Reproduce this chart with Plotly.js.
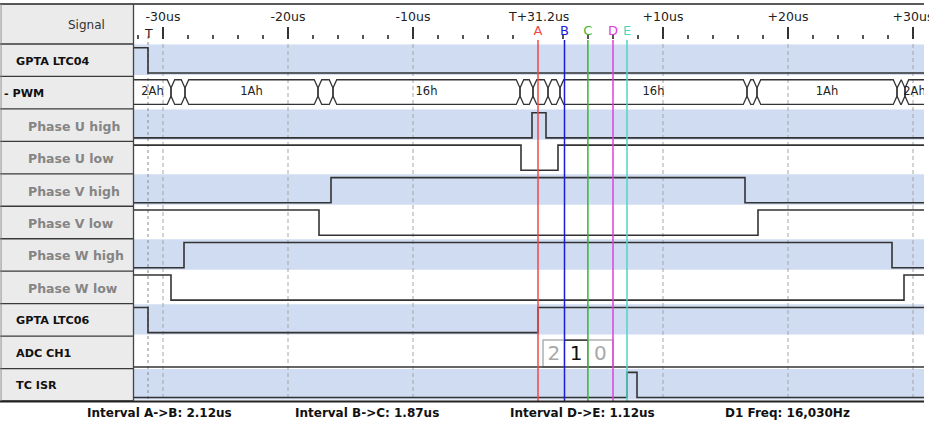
<!DOCTYPE html>
<html><head><meta charset="utf-8">
<script src="https://cdn.plot.ly/plotly-3.0.1.min.js"></script>
<style>html,body{margin:0;padding:0;background:#fff}#chart{width:929px;height:425px}</style>
</head><body><div id="chart"></div>
<script>
// ================= DATA =================
const signalNames = ['GPTA LTC04','- PWM','Phase U high','Phase U low','Phase V high','Phase V low','Phase W high','Phase W low','GPTA LTC06','ADC CH1','TC ISR'];
const signalKinds = ['top','group','child','child','child','child','child','child','top','top','top'];

const majorTickVals = [-30,-20,-10,10,20,30];
const majorTickText = ['-30us','-20us','-10us','+10us','+20us','+30us'];
const referenceTime = 0;
const referenceLabel = 'T+31.2us';
const triggerTime = -31.2;
const triggerLabel = 'T';

const cursorNames  = ['A','B','C','D','E'];
const cursorTimes  = [0, 2.12, 3.99, 6.0, 7.12];
const cursorColors = ['#f04848','#1c1cd0','#38b438','#e040dc','#4fd6c6'];

// digital signals: initial level + transition times (us)
const ltc04Init = 1,      ltc04Edges = [-31.2];
const phaseUHighInit = 0, phaseUHighEdges = [-0.48, 0.64];
const phaseULowInit = 1,  phaseULowEdges = [-1.36, 1.6];
const phaseVHighInit = 0, phaseVHighEdges = [-16.56, 16.56];
const phaseVLowInit = 1,  phaseVLowEdges = [-17.52, 17.6];
const phaseWHighInit = 0, phaseWHighEdges = [-28.32, 28.32];
const phaseWLowInit = 1,  phaseWLowEdges = [-29.36, 29.28];
const ltc06Init = 1,      ltc06Edges = [-31.2, 0];
const tcIsrInit = 0,      tcIsrEdges = [7.12, 7.92];

// PWM bus
const pwmEdges  = [-29.36, -28.24, -17.6, -16.4, -1.44, -0.4, 0.8, 1.76, 16.72, 17.52, 28.72, 29.36];
const pwmValues = ['2Ah','', '1Ah','', '16h','','','', '16h','', '1Ah','', '2Ah'];

// ADC CH1 bus
const adcValues = ['2','1','0'];
const adcStarts = [0.4, 2.12, 3.99];
const adcEnds   = [2.12, 3.99, 6.0];
const adcCurrent = 1;

const statusTexts = ['Interval A->B: 2.12us','Interval B->C: 1.87us','Interval D->E: 1.12us','D1 Freq: 16,030Hz'];

// ================= LAYOUT GEOMETRY =================
const W = 929, H = 425;
const plotLeftPx = 134, plotRightPx = 924, zeroPx = 538, pxPerUs = 12.5;
const xMin = (plotLeftPx - zeroPx) / pxPerUs, xMax = (plotRightPx - zeroPx) / pxPerUs;
const headerTop = 4, rowsTop = 44, rowsBottom = 401;
const rowH = (rowsBottom - rowsTop) / signalNames.length;
const rowTop = i => rowsTop + i * rowH;
const rowBot = i => rowsTop + (i + 1) * rowH;
const hiY = i => rowTop(i) + 3.8;
const loY = i => rowBot(i) - 3.5;
const FONT = 'DejaVu Sans';
const LINE = '#333';

const traces = [];
const shapes = [];
const annotations = [];

// row bands
signalNames.forEach((n, i) => {
  if (i % 2 === 0) shapes.push({type:'rect', xref:'x', yref:'y', x0:xMin-1, x1:xMax+1, y0:rowTop(i)+0.5, y1:rowBot(i)-1.5,
    fillcolor:'#cfdcf1', line:{width:0}, layer:'below'});
});
// dashed gridlines
majorTickVals.forEach(v => shapes.push({type:'line', xref:'x', yref:'y', x0:v, x1:v, y0:rowsTop, y1:rowsBottom,
  line:{color:'#a6a6a6', width:1, dash:'4px,3px'}, layer:'below'}));
// trigger dotted line
shapes.push({type:'line', xref:'x', yref:'y', x0:triggerTime, x1:triggerTime, y0:36, y1:rowsBottom,
  line:{color:'#8a8a8a', width:1, dash:'dot'}, layer:'below'});

// digital traces
function digital(row, init, edges) {
  const xs = [xMin - 1], ys = [];
  let lvl = init;
  ys.push(lvl ? hiY(row) : loY(row));
  edges.forEach(e => { lvl = 1 - lvl; xs.push(e); ys.push(lvl ? hiY(row) : loY(row)); });
  xs.push(xMax + 1); ys.push(lvl ? hiY(row) : loY(row));
  traces.push({type:'scatter', mode:'lines', x:xs, y:ys, line:{shape:'hv', color:LINE, width:1.6}, hoverinfo:'skip'});
}
digital(0, ltc04Init, ltc04Edges);
digital(2, phaseUHighInit, phaseUHighEdges);
digital(3, phaseULowInit, phaseULowEdges);
digital(4, phaseVHighInit, phaseVHighEdges);
digital(5, phaseVLowInit, phaseVLowEdges);
digital(6, phaseWHighInit, phaseWHighEdges);
digital(7, phaseWLowInit, phaseWLowEdges);
digital(8, ltc06Init, ltc06Edges);
digital(10, tcIsrInit, tcIsrEdges);

// ADC baseline
const adcRow = 9;
const adcBase = rowBot(adcRow) - 1.5;
traces.push({type:'scatter', mode:'lines', x:[xMin-1, xMax+1], y:[adcBase, adcBase], line:{color:LINE, width:1.5}, hoverinfo:'skip'});

// PWM bus hexagons
(function(){
  const row = 1, top = hiY(row) - 0.5, bot = loY(row) - 1, mid = (top + bot) / 2;
  const d = 0.3, v = 4;
  const xs = [], ys = [], lx = [], ly = [], lt = [];
  const bounds = [xMin - 2].concat(pwmEdges, [xMax + 2]);
  for (let k = 0; k < pwmValues.length; k++) {
    const s = bounds[k], e = bounds[k+1];
    xs.push(s, s+d, e-d, e, e, e-d, s+d, s, s, null);
    ys.push(mid-v, top, top, mid-v, mid+v, bot, bot, mid+v, mid-v, null);
    if (pwmValues[k]) {
      const a = Math.max(s, xMin), b = Math.min(e, xMax);
      lx.push((a + b) / 2); ly.push(mid + 0.5); lt.push(pwmValues[k]);
    }
  }
  traces.push({type:'scatter', mode:'lines', x:xs, y:ys, line:{color:LINE, width:1.3}, hoverinfo:'skip', connectgaps:false});
  traces.push({type:'scatter', mode:'text', x:lx, y:ly, text:lt, textposition:'middle center',
    textfont:{family:FONT, size:11.5, color:'#222'}, hoverinfo:'skip'});
})();

// ADC boxes
(function(){
  const y0 = rowTop(adcRow) + 4, y1 = adcBase;
  adcValues.forEach((v, k) => {
    shapes.push({type:'rect', xref:'x', yref:'y', x0:adcStarts[k], x1:adcEnds[k], y0:y0, y1:y1,
      fillcolor:'#ffffff', line:{color: k === adcCurrent ? '#ffffff' : '#b0b0b0', width:1.5}, layer:'below'});
  });
  shapes.push({type:'line', xref:'x', yref:'y', x0:adcStarts[adcCurrent], x1:adcEnds[adcCurrent], y0:y0, y1:y0,
    line:{color:'#222', width:1.5}, layer:'below'});
  traces.push({type:'scatter', mode:'text', x:adcStarts.map((s,k)=>(s+adcEnds[k])/2), y:adcValues.map(()=> (y0+y1)/2 + 1),
    text:adcValues, textfont:{family:FONT, size:20, color:adcValues.map((v,k)=> k===adcCurrent ? '#111' : '#a8a8a8')}, hoverinfo:'skip'});
})();

// cursors
cursorTimes.forEach((t, k) => traces.push({type:'scatter', mode:'lines', x:[t,t], y:[40, rowsBottom],
  line:{color:cursorColors[k], width:1.5}, hoverinfo:'skip'}));
traces.push({type:'scatter', mode:'text', xaxis:'x2', yaxis:'y', x:cursorTimes, y:cursorTimes.map(()=>32),
  text:cursorNames, textfont:{family:FONT, size:13, color:cursorColors}, hoverinfo:'skip', cliponaxis:false});

// header annotations
annotations.push({xref:'x', yref:'y', x:referenceTime, y:16, text:referenceLabel, showarrow:false,
  font:{family:FONT, size:12.5, color:'#222'}});
annotations.push({xref:'x', yref:'y', x:triggerTime, y:33, text:triggerLabel, showarrow:false,
  font:{family:FONT, size:12.5, color:'#222'}});

// left panel
const panelR = 133;
shapes.push({type:'rect', xref:'paper', yref:'y', x0:1/W, x1:panelR/W, y0:headerTop, y1:rowsBottom,
  fillcolor:'#ebebeb', line:{width:0}, layer:'above'});
for (let i = 0; i <= signalNames.length; i++) {
  shapes.push({type:'line', xref:'paper', yref:'y', x0:0, x1:panelR/W, y0:rowTop(i), y1:rowTop(i),
    line:{color:'#3a3a3a', width:1.3}, layer:'above'});
}
shapes.push({type:'line', xref:'paper', yref:'y', x0:0, x1:plotRightPx/W, y0:headerTop, y1:headerTop, line:{color:'#222', width:1.5}, layer:'above'});
shapes.push({type:'line', xref:'paper', yref:'y', x0:0, x1:plotRightPx/W, y0:rowsBottom+0.5, y1:rowsBottom+0.5, line:{color:'#222', width:1.8}, layer:'above'});
shapes.push({type:'line', xref:'paper', yref:'y', x0:1/W, x1:1/W, y0:headerTop, y1:rowsBottom, line:{color:'#888', width:1}, layer:'above'});
shapes.push({type:'line', xref:'paper', yref:'y', x0:(panelR+0.5)/W, x1:(panelR+0.5)/W, y0:headerTop, y1:rowsBottom, line:{color:'#444', width:1.3}, layer:'above'});

annotations.push({xref:'paper', yref:'y', x:66/W, y:(headerTop+rowsTop)/2+1, text:'Signal', showarrow:false,
  font:{family:FONT, size:12, color:'#333'}});
signalNames.forEach((n, i) => {
  const kind = signalKinds[i];
  const x = kind === 'group' ? 2 : kind === 'child' ? 26 : 14;
  annotations.push({xref:'paper', yref:'y', x:x/W, xanchor:'left', y:(rowTop(i)+rowBot(i))/2 + 1, text:'<b>'+n+'</b>', showarrow:false,
    font:{family:FONT, size: kind === 'child' ? 12.5 : 11.2, color: kind === 'child' ? '#858585' : '#111'}});
});

// status line
const statusX = [85, 293, 508, 723];
statusTexts.forEach((s, k) => annotations.push({xref:'paper', yref:'y', x:statusX[k]/W, xanchor:'left', y:413, text:'<b>'+s+'</b>',
  showarrow:false, font:{family:FONT, size:12, color:'#111'}}));

// minor tick positions (every 2us, not on labelled ticks)
const minorVals = [];
for (let v = -32; v <= 30; v += 2) if (v % 10 !== 0) minorVals.push(v);

const layout = {
  width:W, height:H, margin:{l:0, r:0, t:0, b:0}, showlegend:false,
  paper_bgcolor:'#ffffff', plot_bgcolor:'rgba(0,0,0,0)',
  xaxis:{domain:[plotLeftPx/W, plotRightPx/W], range:[xMin, xMax], visible:false, fixedrange:true},
  xaxis2:{overlaying:'x', anchor:'free', position:1 - 39/H, side:'top', domain:[plotLeftPx/W, plotRightPx/W],
    range:[xMin, xMax], tickmode:'array', tickvals:majorTickVals, ticktext:majorTickText,
    ticks:'outside', ticklen:12, tickwidth:1.5, tickcolor:'#333', showgrid:false, zeroline:false, showline:false,
    tickfont:{family:FONT, size:12.5, color:'#222'}, ticklabelstandoff:1, ticklabeloverflow:'allow',
    minor:{tickmode:'array', tickvals:minorVals, ticks:'outside', ticklen:4, tickwidth:1.5, tickcolor:'#555', showgrid:false},
    fixedrange:true},
  yaxis:{domain:[0,1], range:[H, 0], visible:false, fixedrange:true},
  shapes:shapes, annotations:annotations
};

Plotly.newPlot('chart', traces, layout, {staticPlot:true, displayModeBar:false});
</script>
</body></html>
